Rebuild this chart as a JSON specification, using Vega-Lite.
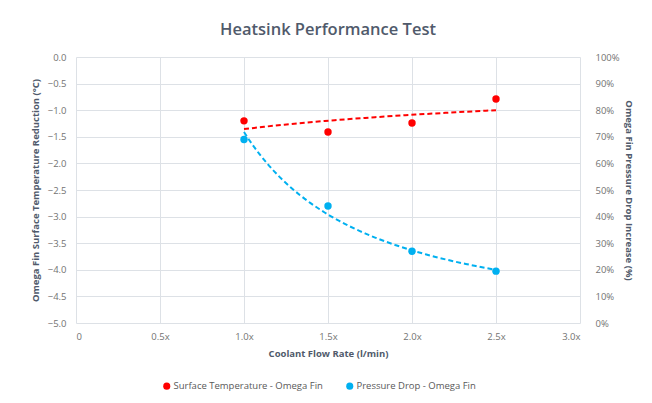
{
  "$schema": "https://vega.github.io/schema/vega-lite/v6.json",
  "width": 504,
  "height": 266,
  "autosize": {"type": "none"},
  "padding": {"left": 76, "top": 57, "right": 72, "bottom": 80},
  "background": "white",
  "title": {"text": "Heatsink Performance Test", "fontSize": 16.5, "font": "Open Sans", "fontWeight": 600, "color": "#505a6b", "offset": 14, "anchor": "middle"},
  "config": {
    "view": {"stroke": null},
    "font": "Open Sans",
    "axis": {"domain": false, "ticks": false, "gridColor": "#dde1e6", "labelColor": "#737373", "labelFontSize": 9.5, "titleFontSize": 9.5, "titleFontWeight": "bold", "titleColor": "#505a6b"}
  },
  "data": {"values": [
    {"flow": 1.0, "series": "Surface Temperature - Omega Fin", "value": -1.20},
    {"flow": 1.5, "series": "Surface Temperature - Omega Fin", "value": -1.41},
    {"flow": 2.0, "series": "Surface Temperature - Omega Fin", "value": -1.24},
    {"flow": 2.5, "series": "Surface Temperature - Omega Fin", "value": -0.79},
    {"flow": 1.0, "series": "Pressure Drop - Omega Fin", "value": 0.69},
    {"flow": 1.5, "series": "Pressure Drop - Omega Fin", "value": 0.44},
    {"flow": 2.0, "series": "Pressure Drop - Omega Fin", "value": 0.27},
    {"flow": 2.5, "series": "Pressure Drop - Omega Fin", "value": 0.195}
  ]},
  "layer": [
    {
      "transform": [{"filter": "datum.series == 'Surface Temperature - Omega Fin'"}],
      "encoding": {
        "x": {"field": "flow", "type": "quantitative", "scale": {"domain": [0, 3], "nice": false},
          "axis": {"values": [0, 0.5, 1, 1.5, 2, 2.5, 3], "grid": true, "labelPadding": 8, "labelExpr": "datum.value == 0 ? '0' : format(datum.value, '.1f') + 'x'", "title": "Coolant Flow Rate (l/min)", "titlePadding": 8}},
        "y": {"field": "value", "type": "quantitative", "scale": {"domain": [-5, 0], "nice": false},
          "axis": {"orient": "left", "values": [-5, -4.5, -4, -3.5, -3, -2.5, -2, -1.5, -1, -0.5, 0], "format": ".1f", "grid": true, "labelPadding": 10, "title": "Omega Fin Surface Temperature Reduction (°C)", "titlePadding": 7}}
      },
      "layer": [
        {"transform": [{"regression": "value", "on": "flow", "method": "log"}],
         "mark": {"type": "line", "color": "#ff0000", "strokeDash": [5, 3], "strokeWidth": 2}},
        {"mark": {"type": "circle", "size": 55, "opacity": 1},
         "encoding": {"color": {"field": "series", "type": "nominal",
           "scale": {"domain": ["Surface Temperature - Omega Fin", "Pressure Drop - Omega Fin"], "range": ["#ff0000", "#00b0f0"]},
           "legend": {"orient": "none", "legendX": 86, "legendY": 324, "direction": "horizontal", "title": null, "symbolType": "circle", "symbolSize": 50, "labelFontSize": 9.5, "labelColor": "#595959", "columnPadding": 22, "labelOffset": 2}}}}
      ]
    },
    {
      "transform": [{"filter": "datum.series == 'Pressure Drop - Omega Fin'"}],
      "encoding": {
        "x": {"field": "flow", "type": "quantitative", "scale": {"domain": [0, 3], "nice": false}},
        "y": {"field": "value", "type": "quantitative", "scale": {"domain": [0, 1], "nice": false},
          "axis": {"orient": "right", "values": [0, 0.1, 0.2, 0.3, 0.4, 0.5, 0.6, 0.7, 0.8, 0.9, 1], "format": ".0%", "grid": false, "labelPadding": 15, "title": "Omega Fin Pressure  Drop Increase (%)", "titlePadding": 4}}
      },
      "layer": [
        {"transform": [{"regression": "value", "on": "flow", "method": "pow"}],
         "mark": {"type": "line", "color": "#00b0f0", "strokeDash": [5, 3], "strokeWidth": 2}},
        {"mark": {"type": "circle", "size": 55, "opacity": 1},
         "encoding": {"color": {"field": "series", "type": "nominal"}}}
      ]
    }
  ],
  "resolve": {"scale": {"y": "independent"}}
}
